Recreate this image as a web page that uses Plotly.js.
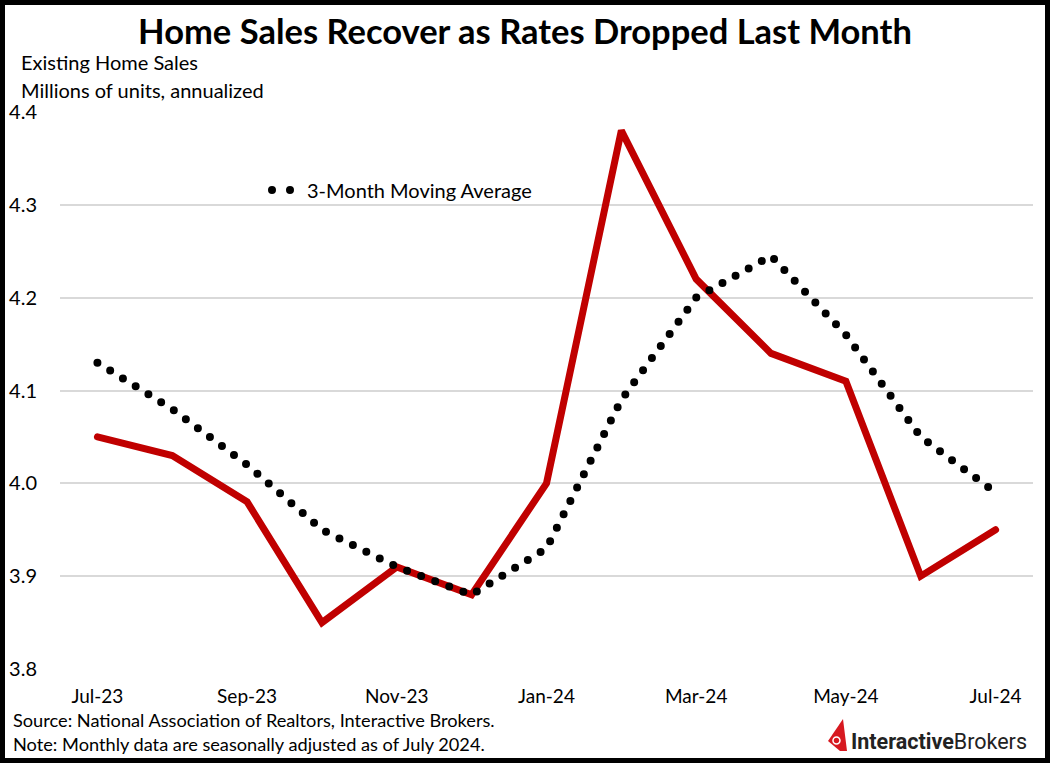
<!DOCTYPE html>
<html>
<head>
<meta charset="utf-8">
<script src="https://cdn.plot.ly/plotly-3.0.1.min.js"></script>
<style>
  html, body { margin: 0; padding: 0; background: #fff; }
  #chart { width: 1050px; height: 763px; box-sizing: border-box; border: 5px solid #000; }
  #chart path.js-line { stroke-linecap: round !important; }
  #chart .legend path.js-line { stroke-dasharray: 0px, 18px !important; }
</style>
</head>
<body>
<div id="chart"></div>
<script>
// Data
const months = ["Jul-23","Aug-23","Sep-23","Oct-23","Nov-23","Dec-23","Jan-24","Feb-24","Mar-24","Apr-24","May-24","Jun-24","Jul-24"];
const homeSales = [4.05, 4.03, 3.98, 3.85, 3.91, 3.88, 4.00, 4.38, 4.22, 4.14, 4.11, 3.90, 3.95];
const movingAvg = [4.13, 4.08, 4.02, 3.95, 3.91, 3.88, 3.93, 4.09, 4.20, 4.245, 4.16, 4.05, 3.99];
const yTicks = [3.8, 3.9, 4.0, 4.1, 4.2, 4.3, 4.4];
const titleText = "Home Sales Recover as Rates Dropped Last Month";
const subtitle1 = "Existing Home Sales";
const subtitle2 = "Millions of units, annualized";
const sourceText = "Source: National Association of Realtors, Interactive Brokers.";
const noteText = "Note: Monthly data are seasonally adjusted as of July 2024.";
const maName = "3-Month Moving Average";

const FONT = "Lato, 'Noto Sans', sans-serif";
const W = 1040, H = 753;
const ML = 55, MR = 12, MT = 107, MB = 89;
const PW = W - ML - MR, PH = H - MT - MB;
// helpers converting page pixel positions to paper coords
const px = x => (x - 5 - ML) / PW;
const py = y => (H - MB - (y - 5)) / PH;

const traces = [
  {
    x: months, y: homeSales, type: "scatter", mode: "lines",
    line: { color: "#c00000", width: 7, shape: "linear" },
    showlegend: false, hoverinfo: "x+y"
  },
  {
    x: months, y: movingAvg, type: "scatter", mode: "lines", name: maName,
    line: { color: "#000000", width: 8, dash: "0px,15px" },
    showlegend: true, hoverinfo: "x+y"
  }
];

const iconPath = `M ${px(843)} ${py(719)} L ${px(828)} ${py(741)} L ${px(840)} ${py(751)} L ${px(847)} ${py(751)} Z`;

const layout = {
  width: W, height: H,
  margin: { l: ML, r: MR, t: MT, b: MB },
  paper_bgcolor: "#fff", plot_bgcolor: "#fff",
  font: { family: FONT, color: "#000", size: 19 },
  title: {
    text: "<b>" + titleText + "</b>",
    font: { family: FONT, size: 34.5, color: "#000" },
    x: 0.5, xref: "container", xanchor: "center",
    y: 1 - 27 / H, yref: "container", yanchor: "middle"
  },
  xaxis: {
    type: "category",
    range: [-0.5, months.length - 0.5],
    tickmode: "array",
    tickvals: months.filter((m, i) => i % 2 === 0),
    ticktext: months.filter((m, i) => i % 2 === 0),
    showgrid: false, zeroline: false, showline: false,
    ticks: "outside", ticklen: 10, tickcolor: "rgba(0,0,0,0)",
    tickfont: { family: FONT, size: 19, color: "#000" }
  },
  yaxis: {
    range: [3.8, 4.4],
    tickmode: "array", tickvals: yTicks, ticktext: yTicks.map(v => v.toFixed(1)),
    showgrid: true, gridcolor: "#d9d9d9", gridwidth: 1.5,
    zeroline: false, showline: false,
    ticks: "outside", ticklen: 18, tickcolor: "rgba(0,0,0,0)",
    tickfont: { family: FONT, size: 20, color: "#000" }
  },
  showlegend: true,
  legend: {
    x: px(267), y: py(190), xanchor: "left", yanchor: "middle",
    bgcolor: "rgba(0,0,0,0)", borderwidth: 0,
    font: { family: FONT, size: 20, color: "#000" },
    itemwidth: 30
  },
  annotations: [
    { text: subtitle1, xref: "paper", yref: "paper", x: px(19), y: py(62), xanchor: "left", yanchor: "middle", showarrow: false, font: { family: FONT, size: 20, color: "#000" } },
    { text: subtitle2, xref: "paper", yref: "paper", x: px(19), y: py(90), xanchor: "left", yanchor: "middle", showarrow: false, font: { family: FONT, size: 20, color: "#000" } },
    { text: sourceText, xref: "paper", yref: "paper", x: px(11), y: py(720), xanchor: "left", yanchor: "middle", showarrow: false, font: { family: FONT, size: 18.2, color: "#000" } },
    { text: noteText, xref: "paper", yref: "paper", x: px(11), y: py(744), xanchor: "left", yanchor: "middle", showarrow: false, font: { family: FONT, size: 18.2, color: "#000" } },
    { text: "<b>Interactive</b>Brokers", xref: "paper", yref: "paper", x: px(849), y: py(741), xanchor: "left", yanchor: "middle", showarrow: false, font: { family: "Roboto, 'Noto Sans', sans-serif", size: 21.5, color: "#222" } }
  ],
  shapes: [
    { type: "path", xref: "paper", yref: "paper", path: iconPath, fillcolor: "#d71920", line: { width: 0 } },
    { type: "circle", xref: "paper", yref: "paper", x0: px(833), x1: px(840), y0: py(737), y1: py(744), fillcolor: "#d71920", line: { color: "#fff", width: 1.5 } }
  ]
};

Plotly.newPlot("chart", traces, layout, { displayModeBar: false, responsive: false });
</script>
</body>
</html>
